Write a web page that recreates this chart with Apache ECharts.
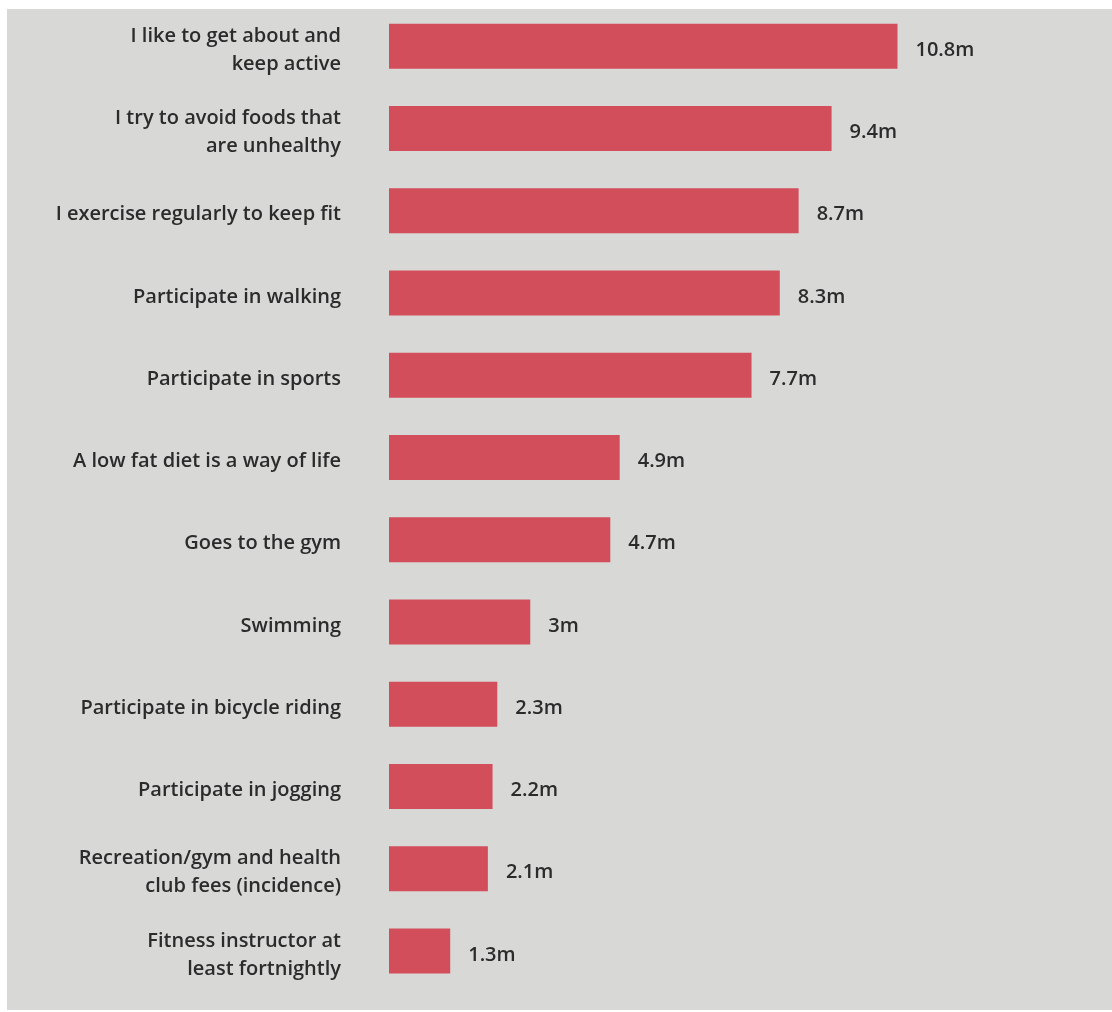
<!DOCTYPE html>
<html>
<head>
<meta charset="utf-8">
<script src="https://cdn.jsdelivr.net/npm/echarts@6/dist/echarts.min.js"></script>
<style>
  html, body { margin: 0; padding: 0; background: #fff; }
  #chart-container { width: 1112px; height: 1012px; }
</style>
</head>
<body>
<div id="chart-container"></div>
<script>
var categories = [
    'I like to get about and\nkeep active',
    'I try to avoid foods that\nare unhealthy',
    'I exercise regularly to keep fit',
    'Participate in walking',
    'Participate in sports',
    'A low fat diet is a way of life',
    'Goes to the gym',
    'Swimming',
    'Participate in bicycle riding',
    'Participate in jogging',
    'Recreation/gym and health\nclub fees (incidence)',
    'Fitness instructor at\nleast fortnightly'
];
var values = [10.8, 9.4, 8.7, 8.3, 7.7, 4.9, 4.7, 3, 2.3, 2.2, 2.1, 1.3];
var unit = 'm';

var textStyle = {
    fontFamily: 'Open Sans',
    fontWeight: 600,
    fontSize: 20,
    color: '#2b2b2b'
};

var myChart = echarts.init(document.getElementById('chart-container'));

var option = {
    backgroundColor: '#ffffff',
    animation: false,
    graphic: [
        {
            type: 'rect',
            z: -10,
            shape: { x: 7, y: 9, width: 1105, height: 1001 },
            style: { fill: '#d8d8d6' }
        }
    ],
    grid: {
        left: 389,
        right: 158,
        top: 5,
        bottom: 20
    },
    xAxis: {
        type: 'value',
        min: 0,
        max: 12,
        show: false
    },
    yAxis: {
        type: 'category',
        inverse: true,
        data: categories,
        axisLine: { show: false },
        axisTick: { show: false },
        axisLabel: {
            margin: 48,
            align: 'right',
            padding: [8, 0, 0, 0],
            formatter: function (v) {
                return v.split('\n').map(function (l) { return '{t|' + l + '}'; }).join('\n');
            },
            rich: {
                t: Object.assign({ lineHeight: 28, align: 'right' }, textStyle)
            }
        }
    },
    series: [
        {
            type: 'bar',
            data: values,
            barWidth: 45,
            itemStyle: { color: '#d34e5b' },
            label: Object.assign({
                show: true,
                position: 'right',
                distance: 18,
                offset: [0, 4],
                formatter: function (p) { return p.value + unit; }
            }, textStyle)
        }
    ]
};

myChart.setOption(option);
</script>
</body>
</html>
